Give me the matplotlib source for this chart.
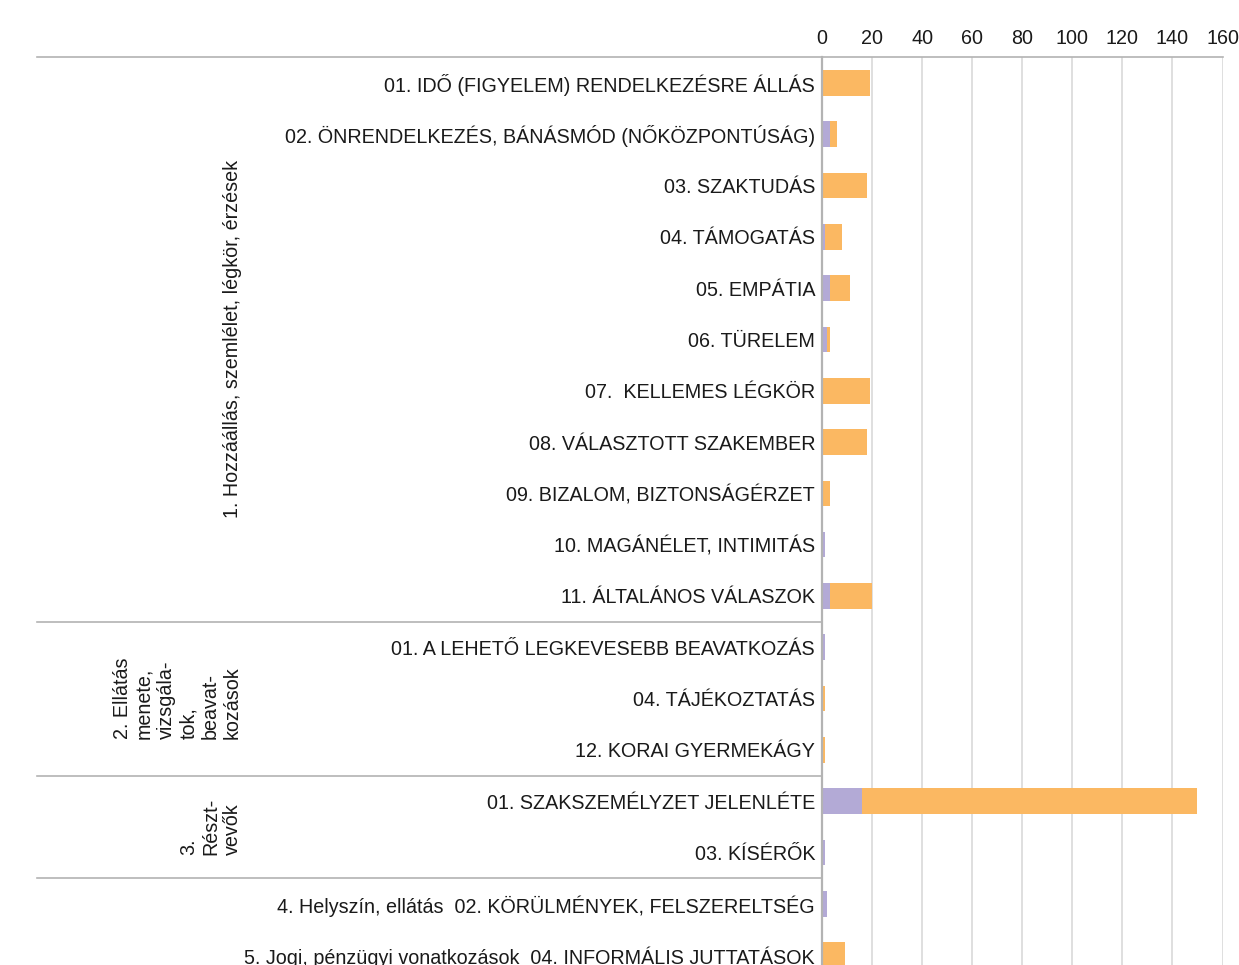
import matplotlib
matplotlib.use("Agg")
import matplotlib.pyplot as plt
from matplotlib.lines import Line2D
from matplotlib.transforms import blended_transform_factory

plt.rcParams["font.family"] = ["Liberation Sans", "DejaVu Sans"]

# groups (name, number of rows)
groups = [
    "1. Hozzáállás, szemlélet, légkör, érzések",
    "2. Ellátás\nmenete,\nvizsgála-\ntok,\nbeavat-\nkozások",
    "3.\nRészt-\nvevők",
    "4. Helyszín, ellátás",
    "5. Jogi, pénzügyi vonatkozások",
]
group_sizes = [11, 3, 2, 1, 1]

categories = [
    "01. IDŐ (FIGYELEM) RENDELKEZÉSRE ÁLLÁS",
    "02. ÖNRENDELKEZÉS, BÁNÁSMÓD (NŐKÖZPONTÚSÁG)",
    "03. SZAKTUDÁS",
    "04. TÁMOGATÁS",
    "05. EMPÁTIA",
    "06. TÜRELEM",
    "07.  KELLEMES LÉGKÖR",
    "08. VÁLASZTOTT SZAKEMBER",
    "09. BIZALOM, BIZTONSÁGÉRZET",
    "10. MAGÁNÉLET, INTIMITÁS",
    "11. ÁLTALÁNOS VÁLASZOK",
    "01. A LEHETŐ LEGKEVESEBB BEAVATKOZÁS",
    "04. TÁJÉKOZTATÁS",
    "12. KORAI GYERMEKÁGY",
    "01. SZAKSZEMÉLYZET JELENLÉTE",
    "03. KÍSÉRŐK",
    "02. KÖRÜLMÉNYEK, FELSZERELTSÉG",
    "04. INFORMÁLIS JUTTATÁSOK",
]

purple_vals = [0, 3, 0, 1, 3, 2, 0, 0, 0, 1, 3, 1, 0, 0, 16, 1, 2, 0.5]
orange_vals = [19, 3, 18, 7, 8, 1, 19, 18, 3, 0, 17, 0, 1, 1, 134, 0, 0, 8.5]

x_ticks = [0, 20, 40, 60, 80, 100, 120, 140, 160]

PURPLE = "#b3aad6"
ORANGE = "#fbb862"
TEXT = "#1a1a1a"
FS = 14.2

# single-row groups get their name written in front of the category
labels = list(categories)
start = 0
for g, n in zip(groups, group_sizes):
    if n == 1:
        labels[start] = g + "  " + labels[start]
    start += n

W, H = 1239, 965
fig = plt.figure(figsize=(W / 100, H / 100), dpi=100)
ax = fig.add_axes([822 / W, 1 - 980.7 / H, (1222.5 - 822) / W, (980.7 - 57.3) / H])

pos = list(range(len(categories)))
ax.barh(pos, purple_vals, height=0.5, color=PURPLE, zorder=3)
ax.barh(pos, orange_vals, left=purple_vals, height=0.5, color=ORANGE, zorder=3)

ax.set_xlim(0, 160)
ax.set_ylim(len(categories) - 0.5, -0.5)
ax.set_xticks(x_ticks)
ax.xaxis.tick_top()
ax.tick_params(axis="x", length=0, pad=7, labelsize=FS, labelcolor=TEXT)
ax.set_yticks(pos)
ax.set_yticklabels(labels)
ax.tick_params(axis="y", length=0, pad=5, labelsize=FS, labelcolor=TEXT)
ax.grid(axis="x", color="#d9d9d9", linewidth=1.2, zorder=0)
ax.set_axisbelow(True)
for s in ["right", "bottom"]:
    ax.spines[s].set_visible(False)
ax.spines["left"].set_color("#b3b3b3")
ax.spines["left"].set_linewidth(1.6)
ax.spines["left"].set_zorder(4)
ax.spines["top"].set_color("#b3b3b3")
ax.spines["top"].set_linewidth(1.2)

# group separators and rotated group names
tr = blended_transform_factory(fig.transFigure, ax.transData)
x0 = 37 / W
fig.add_artist(Line2D([x0, 822 / W], [-0.5, -0.5], transform=tr,
                      color="#b3b3b3", linewidth=1.2))
start = 0
for g, n in zip(groups, group_sizes):
    end = start + n
    if n > 1:
        ax.text(242 / W, (start + end - 1) / 2, g, transform=tr,
                rotation=90, ha="right", va="center", multialignment="left",
                fontsize=FS, color=TEXT)
        fig.add_artist(Line2D([x0, 822 / W], [end - 0.5, end - 0.5],
                              transform=tr, color="#b3b3b3", linewidth=1.2))
    start = end

fig.savefig("out.png", dpi=100)
